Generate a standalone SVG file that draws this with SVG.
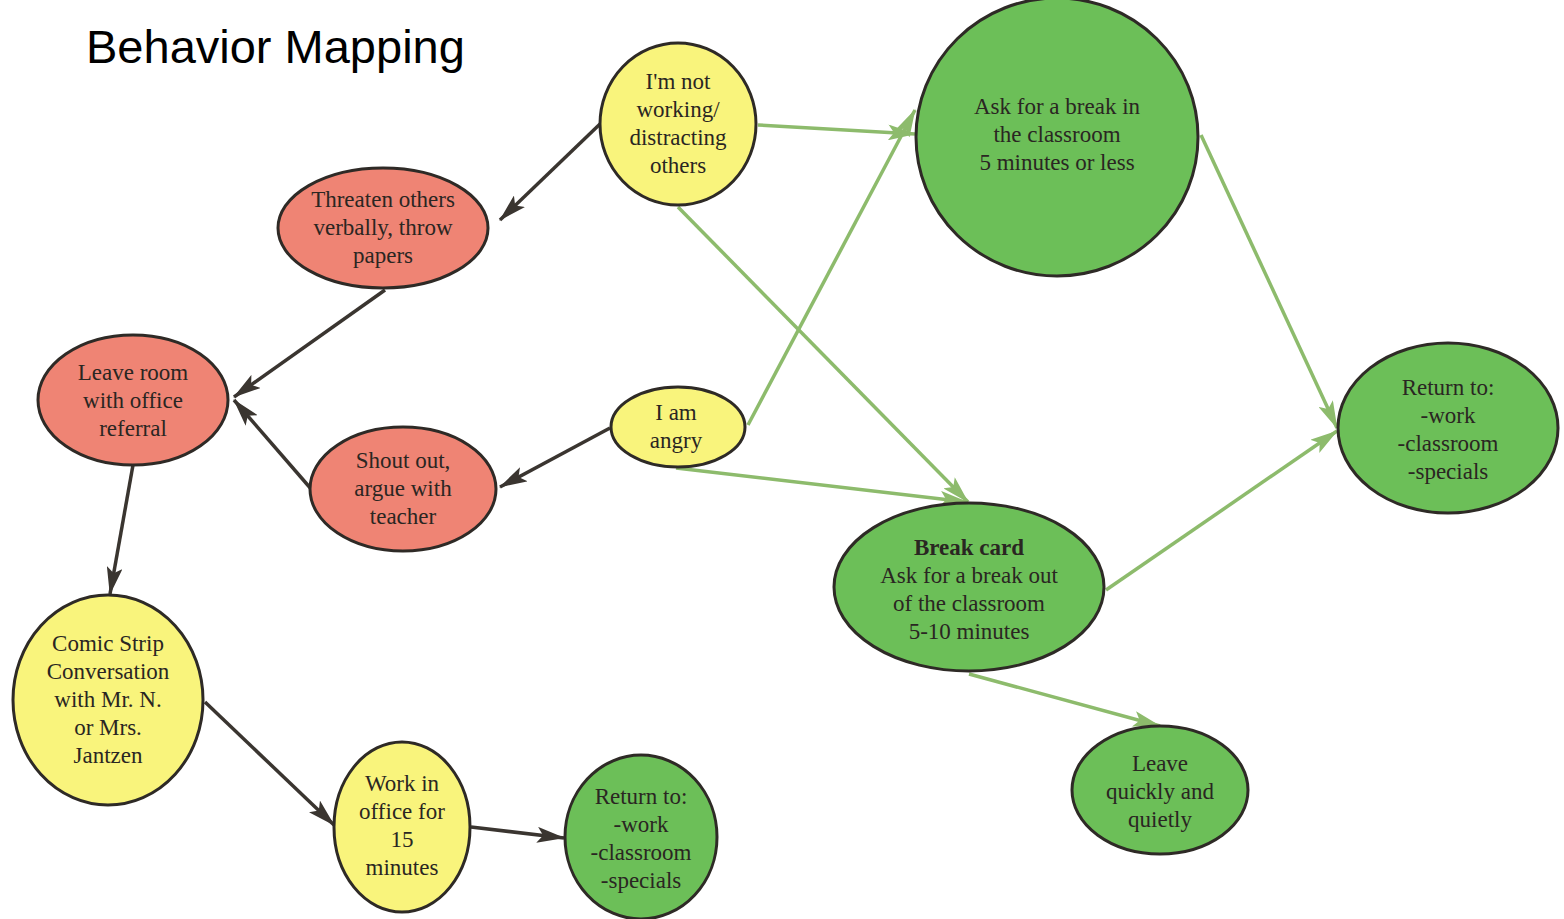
<svg xmlns="http://www.w3.org/2000/svg" width="1564" height="919" viewBox="0 0 1564 919">
<defs>
<marker id="ad" viewBox="0 0 28 16" refX="27" refY="8" markerWidth="28" markerHeight="16" markerUnits="userSpaceOnUse" orient="auto"><path d="M0,0 L28,8 L0,16 L6,8 z" fill="#3a3530"/></marker>
<marker id="ag" viewBox="0 0 28 16" refX="27" refY="8" markerWidth="28" markerHeight="16" markerUnits="userSpaceOnUse" orient="auto"><path d="M0,0 L28,8 L0,16 L6,8 z" fill="#8dbb6c"/></marker>
<style>
.n{stroke:#2e2a26;stroke-width:3}
.y{fill:#f9f47c}
.r{fill:#ef8474}
.g{fill:#6cbf58}
text{font-family:"Liberation Serif","Times New Roman",serif;font-size:23px;fill:#2a2622;text-anchor:middle}
.dk{stroke:#3a3530;stroke-width:3.5;fill:none;marker-end:url(#ad)}
.gr{stroke:#8dbb6c;stroke-width:3.5;fill:none;marker-end:url(#ag)}
</style>
</defs>
<rect width="1564" height="919" fill="#ffffff"/>
<text x="86" y="63" style="font-family:'Liberation Sans',Arial,sans-serif;font-size:47px;fill:#000;text-anchor:start">Behavior Mapping</text>
<g id="connectors">
<line class="dk" x1="600" y1="124" x2="500" y2="220"/>
<line class="dk" x1="385" y1="290" x2="234" y2="397"/>
<line class="dk" x1="312" y1="490" x2="234" y2="400"/>
<line class="dk" x1="610" y1="428" x2="500" y2="487"/>
<line class="dk" x1="133" y1="465" x2="110" y2="594"/>
<line class="dk" x1="205" y1="702" x2="334" y2="825"/>
<line class="dk" x1="471" y1="827" x2="564" y2="838"/>
<line class="gr" x1="758" y1="125" x2="915" y2="134"/>
<line class="gr" x1="678" y1="207" x2="968" y2="502"/>
<line class="gr" x1="748" y1="425" x2="915" y2="110"/>
<line class="gr" x1="676" y1="468" x2="967" y2="502"/>
<line class="gr" x1="1201" y1="135" x2="1337" y2="428"/>
<line class="gr" x1="1106" y1="590" x2="1337" y2="431"/>
<line class="gr" x1="969" y1="674" x2="1160" y2="726"/>
</g>
<g id="n1"><ellipse class="n y" cx="678" cy="124" rx="78" ry="81"/><text x="678" y="89">I'm not</text><text x="678" y="117">working/</text><text x="678" y="145">distracting</text><text x="678" y="173">others</text></g>
<g id="n2"><ellipse class="n g" cx="1057" cy="137" rx="141" ry="139"/><text x="1057" y="114">Ask for a break in</text><text x="1057" y="142">the classroom</text><text x="1057" y="170">5 minutes or less</text></g>
<g id="n3"><ellipse class="n r" cx="383" cy="228" rx="105" ry="60"/><text x="383" y="207">Threaten others</text><text x="383" y="235">verbally, throw</text><text x="383" y="263">papers</text></g>
<g id="n4"><ellipse class="n r" cx="133" cy="400" rx="95" ry="65"/><text x="133" y="380">Leave room</text><text x="133" y="408">with office</text><text x="133" y="436">referral</text></g>
<g id="n5"><ellipse class="n r" cx="403" cy="489" rx="93" ry="62"/><text x="403" y="468">Shout out,</text><text x="403" y="496">argue with</text><text x="403" y="524">teacher</text></g>
<g id="n6"><ellipse class="n y" cx="678" cy="427" rx="67" ry="40"/><text x="676" y="420">I am</text><text x="676" y="448">angry</text></g>
<g id="n7"><ellipse class="n g" cx="969" cy="587" rx="135" ry="84"/><text x="969" y="555" style="font-weight:bold">Break card</text><text x="969" y="583">Ask for a break out</text><text x="969" y="611">of the classroom</text><text x="969" y="639">5-10 minutes</text></g>
<g id="n8"><ellipse class="n g" cx="1448" cy="428" rx="110" ry="85"/><text x="1448" y="395">Return to:</text><text x="1448" y="423">-work</text><text x="1448" y="451">-classroom</text><text x="1448" y="479">-specials</text></g>
<g id="n9"><ellipse class="n y" cx="108" cy="700" rx="95" ry="105"/><text x="108" y="651">Comic Strip</text><text x="108" y="679">Conversation</text><text x="108" y="707">with Mr. N.</text><text x="108" y="735">or Mrs.</text><text x="108" y="763">Jantzen</text></g>
<g id="n10"><ellipse class="n y" cx="402" cy="827" rx="68" ry="85"/><text x="402" y="791">Work in</text><text x="402" y="819">office for</text><text x="402" y="847">15</text><text x="402" y="875">minutes</text></g>
<g id="n11"><ellipse class="n g" cx="641" cy="837" rx="76" ry="82"/><text x="641" y="804">Return to:</text><text x="641" y="832">-work</text><text x="641" y="860">-classroom</text><text x="641" y="888">-specials</text></g>
<g id="n12"><ellipse class="n g" cx="1160" cy="790" rx="88" ry="64"/><text x="1160" y="771">Leave</text><text x="1160" y="799">quickly and</text><text x="1160" y="827">quietly</text></g>
</svg>
